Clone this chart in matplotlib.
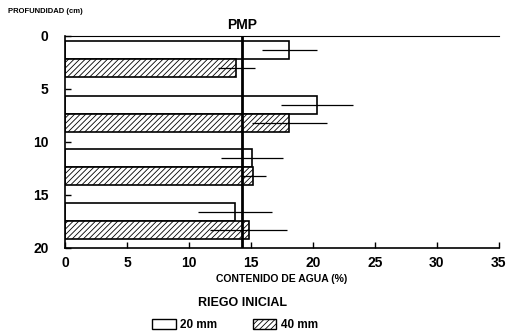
import matplotlib
matplotlib.use("Agg")
import matplotlib.pyplot as plt
from matplotlib.patches import Patch

plt.rcParams['font.family'] = ['Liberation Sans', 'DejaVu Sans']
plt.rcParams['font.weight'] = 'bold'
plt.rcParams['hatch.linewidth'] = 0.6

# depth of each pair (cm) and water content (%)
depth = [2.2, 7.4, 12.4, 17.5]
riego_20 = [18.1, 20.3, 15.1, 13.7]
err_20 = [2.2, 2.9, 2.5, 3.0]
riego_40 = [13.8, 18.1, 15.2, 14.8]
err_40 = [1.5, 3.0, 1.0, 3.1]
pmp = 14.3

fig = plt.figure(figsize=(5.09, 3.36), dpi=100)
ax = fig.add_axes([0.128, 0.262, 0.852, 0.631])

h = 1.7
y20 = [d - h / 2 for d in depth]
y40 = [d + h / 2 for d in depth]
ax.barh(y20, riego_20, height=h, color='white', edgecolor='black', linewidth=1.2)
ax.barh(y40, riego_40, height=h, color='white', edgecolor='black', linewidth=1.2, hatch='//////')
ax.errorbar(riego_20, y20, xerr=err_20, fmt='none', ecolor='black', elinewidth=0.9, capsize=0)
ax.errorbar(riego_40, y40, xerr=err_40, fmt='none', ecolor='black', elinewidth=0.9, capsize=0)
ax.axvline(pmp, color='black', linewidth=2)

ax.set_xlim(0, 35)
ax.set_ylim(20, 0)
ax.set_xticks(range(0, 36, 5))
ax.set_yticks(range(0, 21, 5))
ax.tick_params(direction='in', labelsize=10, width=1, length=4)
ax.tick_params(axis='y', pad=12)
ax.tick_params(axis='x', pad=6)
ax.spines['right'].set_visible(False)
for s in ['left', 'bottom']:
    ax.spines[s].set_linewidth(1.2)
ax.spines['top'].set_linewidth(0.8)

ax.set_xlabel('CONTENIDO DE AGUA (%)', fontsize=7.5, fontweight='bold', labelpad=3)
ax.text(pmp, -0.4, 'PMP', ha='center', va='bottom', fontsize=10, fontweight='bold')
fig.text(0.016, 0.965, 'PROFUNDIDAD (cm)', fontsize=5.5, fontweight='bold', va='center')
fig.text(0.477, 0.098, 'RIEGO INICIAL', ha='center', va='center', fontsize=9, fontweight='bold')

handles = [Patch(facecolor='white', edgecolor='black', label='20 mm'),
           Patch(facecolor='white', edgecolor='black', hatch='//////', label='40 mm')]
fig.legend(handles=handles, loc='center', bbox_to_anchor=(0.462, 0.033), ncol=2, frameon=False,
           fontsize=8.5, handlelength=2.0, handleheight=0.9, columnspacing=3.0, handletextpad=0.4)

fig.savefig('out.png', dpi=100)
